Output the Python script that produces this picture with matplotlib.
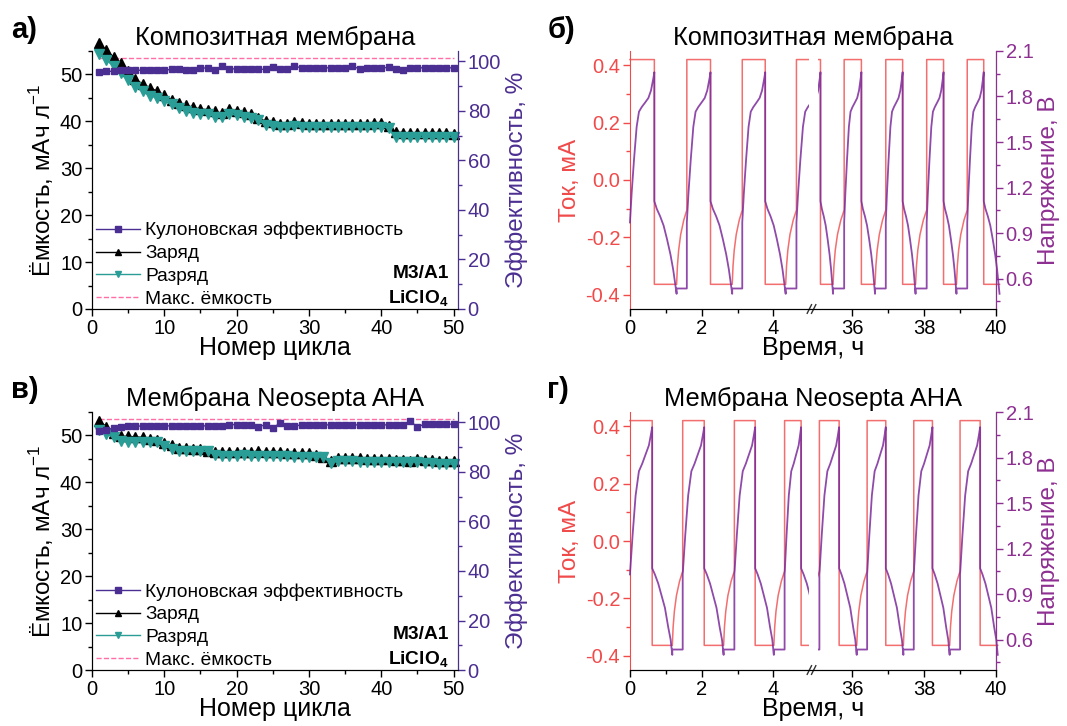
import numpy as np
import matplotlib.pyplot as plt
from matplotlib.patches import Rectangle
from matplotlib.ticker import MultipleLocator, FixedLocator, FormatStrFormatter

plt.rcParams['font.family'] = ['Liberation Sans', 'DejaVu Sans']
plt.rcParams['axes.unicode_minus'] = False
plt.rcParams['mathtext.fontset'] = 'custom'
plt.rcParams['mathtext.rm'] = 'Liberation Sans'
plt.rcParams['mathtext.bf'] = 'Liberation Sans:bold'

# ---- данные: ёмкость по циклам ----
cycles = np.arange(1, 51)
cap_max = 53.6

charge_a = [56.6, 55.1, 53.7, 52.4, 50.7, 49.1, 47.9, 47.2, 46.4, 45.6,
            44.5, 44.0, 43.4, 43.0, 42.6, 42.5, 42.1, 41.7, 42.7, 42.2,
            42.0, 41.6, 40.8, 40.0, 39.8, 39.5, 39.5, 39.8, 39.6, 39.5,
            39.5, 39.5, 39.4, 39.4, 39.4, 39.5, 39.5, 39.4, 39.6, 39.7,
            39.0, 37.7, 37.6, 37.5, 37.5, 37.5, 37.5, 37.5, 37.5, 37.4]
discharge_a = [54.4, 53.1, 51.7, 50.3, 48.9, 47.4, 46.4, 45.5, 45.0, 44.3,
               43.6, 42.9, 42.3, 41.8, 41.6, 41.6, 40.9, 40.9, 41.6, 41.3,
               40.9, 40.8, 40.2, 39.3, 38.9, 38.8, 38.8, 38.9, 38.8, 38.8,
               38.8, 38.7, 38.8, 38.8, 38.8, 38.8, 38.8, 38.8, 38.8, 38.8,
               38.6, 36.6, 36.7, 36.6, 36.6, 36.6, 36.6, 36.6, 36.6, 36.6]
ce_a = [95.7, 96.0, 96.0, 96.4, 96.4, 96.4, 96.4, 96.4, 96.4, 96.4,
        96.8, 97.0, 96.6, 96.4, 97.2, 97.4, 96.6, 98.1, 96.8, 97.1,
        97.1, 96.9, 96.8, 96.8, 97.6, 97.1, 97.1, 98.0, 97.4, 97.4,
        97.4, 97.4, 97.4, 97.4, 97.4, 98.0, 97.0, 97.3, 97.3, 97.3,
        97.6, 96.8, 96.6, 97.4, 97.4, 97.4, 97.4, 97.4, 97.4, 97.4]

charge_c = [53.0, 51.9, 50.6, 49.8, 49.8, 49.7, 49.6, 49.3, 49.1, 48.4,
            47.9, 47.4, 47.3, 47.2, 47.1, 46.7, 46.4, 46.4, 46.4, 46.4,
            46.4, 46.4, 46.7, 46.4, 46.4, 46.4, 46.3, 46.2, 46.2, 46.2,
            45.9, 45.5, 44.6, 45.2, 45.2, 45.1, 45.1, 45.0, 45.0, 44.9,
            44.9, 44.8, 44.8, 44.5, 45.0, 44.8, 44.7, 44.6, 44.6, 44.5]
discharge_c = [51.2, 50.3, 49.6, 48.9, 48.7, 48.7, 48.7, 48.7, 48.6, 47.7,
               47.2, 46.7, 46.6, 46.6, 46.6, 46.6, 45.9, 45.7, 45.7, 45.7,
               45.8, 45.7, 45.7, 45.7, 45.7, 45.6, 45.6, 45.5, 45.5, 45.5,
               45.5, 45.4, 44.1, 44.5, 44.5, 44.5, 44.4, 44.4, 44.4, 44.4,
               44.3, 44.3, 44.3, 44.4, 44.3, 44.2, 44.1, 43.9, 43.9, 43.9]
ce_c = [96.4, 97.0, 97.7, 98.1, 98.4, 98.4, 98.6, 98.4, 98.4, 98.6,
        98.6, 98.6, 98.6, 98.6, 98.6, 98.6, 98.6, 98.6, 99.1, 99.1,
        99.1, 99.1, 98.2, 99.1, 97.9, 99.6, 98.4, 98.4, 99.1, 99.0,
        99.0, 99.0, 99.0, 99.0, 99.0, 99.0, 99.0, 99.0, 99.0, 99.0,
        99.0, 99.0, 99.0, 100.4, 98.2, 99.3, 99.3, 99.3, 99.3, 99.3]

# ---- данные: ток / напряжение (часы) ----
# начало заряда, конец заряда, конец разряда (CC)
b_left = ([0.0, 1.585, 3.13, 4.64], [0.68, 2.245, 3.77, 5.30], [1.30, 2.85, 4.34, 5.90])
b_right = ([34.63, 35.77, 36.93, 38.07, 39.20], [35.11, 36.25, 37.40, 38.54, 39.66],
           [35.46, 36.63, 37.76, 38.90, 40.10])
d_left = ([0.0, 1.47, 2.91, 4.31], [0.62, 2.07, 3.49, 4.77], [1.18, 2.61, 4.01, 5.30])
d_right = ([33.75, 35.08, 36.41, 37.71, 39.00], [34.29, 35.63, 36.93, 38.23, 39.56],
           [34.78, 36.12, 37.42, 38.71, 40.05])

# форма кривых напряжения (доля полупериода, В)
chg_frac_b = [0, 0.068, 0.164, 0.274, 0.37, 0.48, 0.62, 0.755, 0.863, 0.959, 1.0]
chg_volt_b = [0.97, 1.16, 1.38, 1.60, 1.70, 1.73, 1.76, 1.79, 1.84, 1.92, 1.96]
dis_frac_b = [0, 0.108, 0.262, 0.415, 0.569, 0.723, 0.846, 0.923, 1.0]
dis_volt_b = [1.11, 1.06, 1.01, 0.95, 0.86, 0.76, 0.66, 0.58, 0.50]
chg_frac_d = [0, 0.119, 0.254, 0.403, 0.552, 0.701, 0.851, 0.940, 1.0]
chg_volt_d = [1.03, 1.29, 1.55, 1.71, 1.76, 1.82, 1.88, 1.95, 2.00]
dis_frac_d = [0, 0.133, 0.30, 0.467, 0.633, 0.80, 0.917, 1.0]
dis_volt_d = [1.07, 1.03, 0.97, 0.89, 0.81, 0.68, 0.60, 0.50]
hold_volt = 0.535
cv_frac = [0, 0.08, 0.2, 0.4, 0.7, 1.0]
cv_curr = [-0.364, -0.30, -0.245, -0.19, -0.14, -0.105]
i_charge = 0.42
i_discharge = -0.364

time_shift = 29.8        # 36 ч -> 6.2 на оси с разрывом
break_at = 5.0
clip_left = (-1, 4.98)
clip_right = (35.03, 41)
x_ticks = [0, 2, 4, 36, 38, 40]
x_minor = [1, 3, 37, 39]

red = '#f04a4a'
purple = '#7b2a9b'
purple_ax = '#8e2f92'
indigo = '#4b2e91'
teal = '#2a9d96'
pink = '#ff6fa6'

FS_LAB = 17.5
FS_TITLE = 18.3
FS_TICK = 14.5
FS_LEG = 13.8


def build(seg, chg_f, chg_v, dis_f, dis_v):
    cs, ce, cc = seg
    tv, vv, ti, ii = [], [], [], []
    for k in range(len(ce)):
        t0, t1, t2 = cs[k], ce[k], cc[k]
        tv += list(t0 + (t1 - t0) * np.array(chg_f)); vv += chg_v
        ti += [t0, t1]; ii += [i_charge, i_charge]
        tv += list(t1 + (t2 - t1) * np.array(dis_f)); vv += dis_v
        ti += [t1, t2]; ii += [i_discharge, i_discharge]
        if k + 1 < len(cs):
            t3 = cs[k + 1]
            tv += [t2, t3]; vv += [hold_volt, hold_volt]
            ti += list(t2 + (t3 - t2) * np.array(cv_frac)); ii += cv_curr
    return np.array(tv), vv, np.array(ti), ii


def capacity_panel(ax, title, charge, discharge, ce):
    ax2 = ax.twinx()
    l_max, = ax.plot(cycles, [cap_max] * len(cycles), '--', color=pink, lw=1)
    l_ch, = ax.plot(cycles, charge, '-^', color='black', ms=6.5, lw=1, clip_on=False)
    l_dis, = ax.plot(cycles, discharge, '-v', color=teal, ms=6.5, lw=1, clip_on=False)
    l_ce, = ax2.plot(cycles, ce, '-s', color=indigo, ms=5, lw=1)
    ax.set_xlim(0, 50.6)
    ax.set_ylim(0, 55)
    ax2.set_ylim(0, 104.2)
    ax.xaxis.set_major_locator(MultipleLocator(10))
    ax.xaxis.set_minor_locator(MultipleLocator(5))
    ax.yaxis.set_major_locator(MultipleLocator(10))
    ax.yaxis.set_minor_locator(MultipleLocator(5))
    ax2.yaxis.set_major_locator(MultipleLocator(20))
    ax2.yaxis.set_minor_locator(MultipleLocator(10))
    ax.set_xlabel('Номер цикла', fontsize=FS_LAB + 0.5, labelpad=-1)
    ax.set_ylabel('Ёмкость, мАч л$^{-1}$', fontsize=FS_LAB, labelpad=3)
    ax2.set_ylabel('Эффективность, %', fontsize=FS_LAB, color=indigo, labelpad=3)
    ax.set_title(title, fontsize=FS_TITLE, pad=4)
    ax.spines['top'].set_visible(False)
    ax2.spines['top'].set_visible(False)
    ax2.spines['right'].set_color(indigo)
    ax2.tick_params(axis='y', which='both', colors=indigo)
    for a in (ax, ax2):
        a.tick_params(which='major', length=5, width=1, labelsize=FS_TICK, pad=2)
        a.tick_params(which='minor', length=3, width=1)
    ax.legend([l_ce, l_ch, l_dis, l_max],
              ['Кулоновская эффективность', 'Заряд', 'Разряд', 'Макс. ёмкость'],
              loc='lower left', bbox_to_anchor=(-0.03, -0.055), frameon=False,
              fontsize=FS_LEG, handlelength=2.3, labelspacing=0.28, borderpad=0.3,
              handletextpad=0.25, markerscale=0.75)
    ax.text(0.975, 0.12, 'M3/A1', transform=ax.transAxes, ha='right',
            fontsize=FS_LEG, fontweight='bold')
    ax.text(0.975, 0.02, r'LiClO$_\mathbf{4}$', transform=ax.transAxes, ha='right',
            fontsize=FS_LEG, fontweight='bold')


def cycling_panel(ax, title, seg_l, seg_r, chg_f, chg_v, dis_f, dis_v):
    ax2 = ax.twinx()
    for seg, (lo, hi), shift in [(seg_l, clip_left, 0), (seg_r, clip_right, time_shift)]:
        tv, vv, ti, ii = build(seg, chg_f, chg_v, dis_f, dis_v)
        ln, = ax.plot(ti - shift, ii, color=red, lw=1.1, alpha=0.8)
        ln.set_clip_path(Rectangle((lo - shift, -5), hi - lo, 10, transform=ax.transData))
        lv, = ax2.plot(tv - shift, vv, color=purple, lw=1.3, alpha=0.85)
        lv.set_clip_path(Rectangle((lo - shift, -5), hi - lo, 10, transform=ax2.transData))
    ax.set_xlim(0, 40 - time_shift)
    ax.set_ylim(-0.45, 0.45)
    ax2.set_ylim(0.4, 2.1)
    ax.xaxis.set_major_locator(FixedLocator([t if t < break_at else t - time_shift for t in x_ticks]))
    ax.xaxis.set_minor_locator(FixedLocator([t if t < break_at else t - time_shift for t in x_minor]))
    ax.set_xticklabels([str(t) for t in x_ticks])
    ax.yaxis.set_major_locator(MultipleLocator(0.2))
    ax.yaxis.set_minor_locator(MultipleLocator(0.1))
    ax.yaxis.set_major_formatter(FormatStrFormatter('%.1f'))
    ax2.yaxis.set_major_locator(MultipleLocator(0.3))
    ax2.yaxis.set_minor_locator(MultipleLocator(0.15))
    ax2.yaxis.set_major_formatter(FormatStrFormatter('%.1f'))
    ax.set_xlabel('Время, ч', fontsize=FS_LAB + 0.5, labelpad=-1)
    ax.set_ylabel('Ток, мА', fontsize=FS_LAB, color=red, labelpad=3)
    ax2.set_ylabel('Напряжение, В', fontsize=FS_LAB, color=purple_ax, labelpad=3)
    ax.set_title(title, fontsize=FS_TITLE, pad=4)
    ax.spines['top'].set_visible(False)
    ax2.spines['top'].set_visible(False)
    ax.spines['left'].set_color(red)
    ax2.spines['left'].set_visible(False)
    ax2.spines['right'].set_color(purple_ax)
    ax.tick_params(axis='y', which='both', colors=red)
    ax2.tick_params(axis='y', which='both', colors=purple_ax)
    for a in (ax, ax2):
        a.tick_params(which='major', length=5, width=1, labelsize=FS_TICK, pad=2)
        a.tick_params(which='minor', length=3, width=1)
    # разрыв оси
    for dx in (0.0, 0.12):
        ax.plot([break_at + dx - 0.06, break_at + dx + 0.06], [-0.465, -0.435],
                color='#333333', lw=1, clip_on=False)


fig = plt.figure(figsize=(10.67, 7.26), dpi=100)
ax_a = fig.add_axes([0.0862, 0.5744, 0.343, 0.3554])
ax_b = fig.add_axes([0.5904, 0.5744, 0.343, 0.3554])
ax_c = fig.add_axes([0.0862, 0.0771, 0.343, 0.3554])
ax_d = fig.add_axes([0.5904, 0.0771, 0.343, 0.3554])

capacity_panel(ax_a, 'Композитная мембрана', charge_a, discharge_a, ce_a)
capacity_panel(ax_c, 'Мембрана Neosepta AHA', charge_c, discharge_c, ce_c)
cycling_panel(ax_b, 'Композитная мембрана', b_left, b_right,
              chg_frac_b, chg_volt_b, dis_frac_b, dis_volt_b)
cycling_panel(ax_d, 'Мембрана Neosepta AHA', d_left, d_right,
              chg_frac_d, chg_volt_d, dis_frac_d, dis_volt_d)

for x, y, s in [(0.010, 0.948, 'а)'), (0.513, 0.948, 'б)'),
                (0.010, 0.452, 'в)'), (0.513, 0.452, 'г)')]:
    fig.text(x, y, s, fontsize=21, fontweight='bold')

fig.savefig('out.png', dpi=100)
